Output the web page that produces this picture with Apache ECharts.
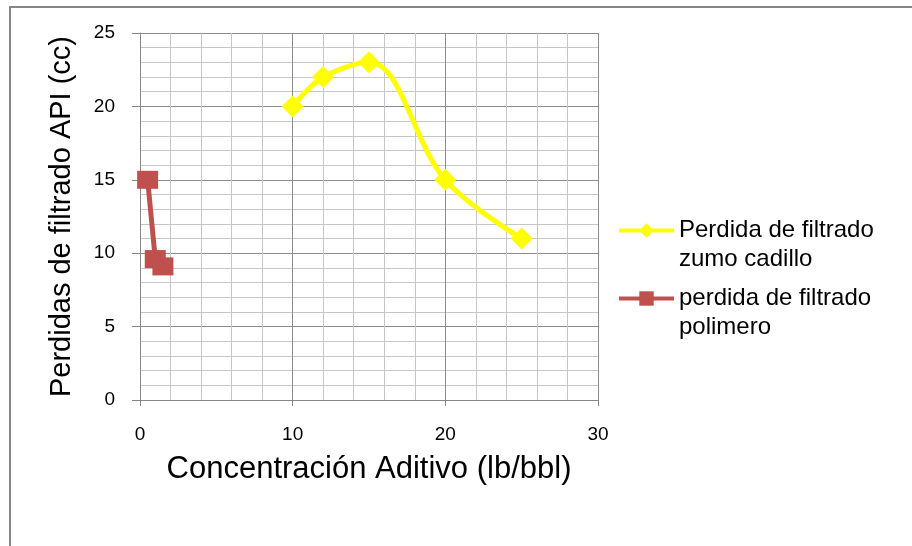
<!DOCTYPE html>
<html>
<head>
<meta charset="utf-8">
<script src="https://cdn.jsdelivr.net/npm/echarts@6/dist/echarts.min.js"></script>
<style>
  html, body { margin: 0; padding: 0; background: #ffffff; }
  #chart { width: 912px; height: 546px; }
</style>
</head>
<body>
<div id="chart"></div>
<script>
// Additive concentration (lb/bbl) vs. API filtrate loss (cc)
const cadilloConc = [10, 12, 15, 20, 25];
const cadilloLoss = [20, 22, 23, 15, 11];
const polimeroConc = [0.5, 1, 1.5];
const polimeroLoss = [15, 9.6, 9.1];

const seriesNames = [
  'Perdida de filtrado\nzumo cadillo',
  'perdida de filtrado\npolimero'
];
const xTitle = 'Concentración Aditivo (lb/bbl)';
const yTitle = 'Perdidas de filtrado API (cc)';

const pair = (xs, ys) => xs.map((x, i) => [x, ys[i]]);

const FONT = '"Liberation Sans", Arial, sans-serif';
const chart = echarts.init(document.getElementById('chart'), null, { renderer: 'canvas' });

chart.setOption({
  animation: false,
  backgroundColor: '#ffffff',
  graphic: [{
    type: 'rect',
    shape: { x: 10, y: 7, width: 950, height: 600 },
    style: { fill: 'none', stroke: '#878787', lineWidth: 2 },
    silent: true,
    z: -10
  }],
  grid: { left: 140, right: 314, top: 33, bottom: 146 },
  legend: {
    orient: 'vertical',
    left: 617,
    top: 187,
    padding: 0,
    itemWidth: 55,
    itemHeight: 18,
    itemGap: -19,
    // leading blank line keeps the marker level with the first text line
    formatter: name => '\n' + name,
    lineStyle: { width: 4 },
    textStyle: {
      fontFamily: FONT,
      fontSize: 24,
      color: '#000000',
      lineHeight: 29
    },
    data: seriesNames
  },
  xAxis: {
    type: 'value',
    min: 0, max: 30, interval: 10,
    name: xTitle,
    nameLocation: 'middle',
    nameGap: 54,
    nameTextStyle: { fontFamily: FONT, fontSize: 31, color: '#000000' },
    axisLine: { show: true, lineStyle: { color: '#868686', width: 1 } },
    axisTick: { show: true, length: 6, lineStyle: { color: '#868686' } },
    axisLabel: { margin: 25, fontFamily: FONT, fontSize: 19, color: '#000000' },
    splitLine: { show: true, lineStyle: { color: '#8c8c8c', width: 1 } },
    minorTick: { show: false, splitNumber: 5 },
    minorSplitLine: { show: true, lineStyle: { color: '#c6c6c6', width: 1 } }
  },
  yAxis: {
    type: 'value',
    min: 0, max: 25, interval: 5,
    name: yTitle,
    nameLocation: 'middle',
    nameGap: 64,
    nameTextStyle: { fontFamily: FONT, fontSize: 29, color: '#000000' },
    axisLine: { show: true, lineStyle: { color: '#868686', width: 1 } },
    axisTick: { show: true, length: 8, lineStyle: { color: '#868686' } },
    axisLabel: { margin: 25, fontFamily: FONT, fontSize: 19, color: '#000000' },
    splitLine: { show: true, lineStyle: { color: '#8c8c8c', width: 1 } },
    minorTick: { show: false, splitNumber: 5 },
    minorSplitLine: { show: true, lineStyle: { color: '#c6c6c6', width: 1 } }
  },
  series: [
    {
      name: seriesNames[0],
      type: 'line',
      data: pair(cadilloConc, cadilloLoss),
      smooth: 0.36,
      smoothConstraint: false,
      symbol: 'diamond',
      symbolSize: 22,
      itemStyle: { color: '#ffff00' },
      lineStyle: { color: '#ffff00', width: 5 },
      z: 3
    },
    {
      name: seriesNames[1],
      type: 'line',
      data: pair(polimeroConc, polimeroLoss),
      smooth: false,
      symbol: 'rect',
      symbolSize: [21, 18],
      itemStyle: { color: '#c0504d' },
      lineStyle: { color: '#c0504d', width: 5 },
      z: 4
    }
  ]
});
</script>
</body>
</html>
